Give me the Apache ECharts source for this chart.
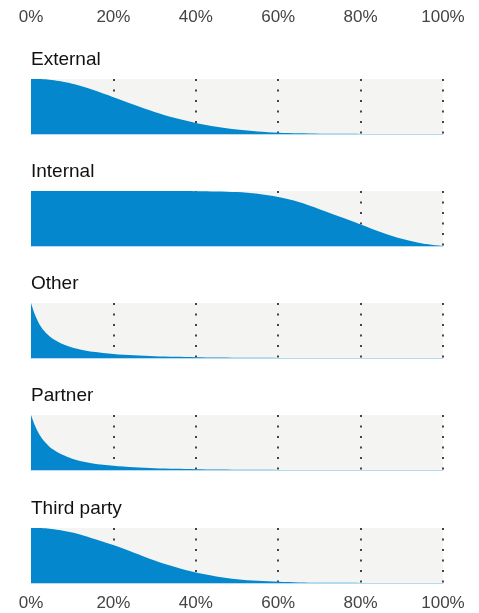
<!DOCTYPE html>
<html>
<head>
<meta charset="utf-8">
<script src="https://cdn.jsdelivr.net/npm/echarts@6/dist/echarts.min.js"></script>
<style>
  html, body { margin: 0; padding: 0; background: #fff; }
  #main { width: 479px; height: 613px; }
</style>
</head>
<body>
<div id="main"></div>
<script>
/* 五个分组的分布面积图（小多图） */

// x 位置（百分比），开头加密以画出陡降
const xPoints = [0, 1, 2, 3, 4, 5, 7.5, 10, 12.5, 15, 20, 25, 30, 35, 40, 45, 50, 55, 60, 65, 70, 75, 80, 85, 90, 95, 100];
const tickLabels = ['0%', '20%', '40%', '60%', '80%', '100%'];
const groups = ['External', 'Internal', 'Other', 'Partner', 'Third party'];

const external   = [1.0, 1.0, 0.998, 0.995, 0.99, 0.98, 0.955, 0.915, 0.865, 0.805, 0.67, 0.53, 0.4, 0.29, 0.2, 0.13, 0.08, 0.046, 0.025, 0.013, 0.006, 0.003, 0.001, 0, 0, 0, 0];
const internal   = [1.0, 1.0, 1.0, 1.0, 1.0, 1.0, 1.0, 1.0, 1.0, 1.0, 1.0, 1.0, 1.0, 0.999, 0.997, 0.993, 0.98, 0.95, 0.89, 0.8, 0.67, 0.53, 0.39, 0.25, 0.13, 0.045, 0.0];
const other      = [1.0, 0.78, 0.62, 0.51, 0.43, 0.365, 0.26, 0.19, 0.145, 0.113, 0.074, 0.05, 0.033, 0.021, 0.013, 0.008, 0.005, 0.003, 0.002, 0.001, 0.0005, 0, 0, 0, 0, 0, 0];
const partner    = [1.0, 0.8, 0.65, 0.54, 0.46, 0.39, 0.28, 0.205, 0.155, 0.12, 0.077, 0.05, 0.033, 0.021, 0.013, 0.008, 0.005, 0.003, 0.002, 0.001, 0.0005, 0, 0, 0, 0, 0, 0];
const thirdParty = [1.0, 1.0, 0.998, 0.995, 0.99, 0.98, 0.955, 0.92, 0.87, 0.81, 0.69, 0.55, 0.41, 0.29, 0.19, 0.12, 0.07, 0.04, 0.022, 0.011, 0.006, 0.003, 0.001, 0, 0, 0, 0];
const values = [external, internal, other, partner, thirdParty];

const BLUE = '#0487cc';
const panelTops = [79, 191, 303, 415, 528];
const panelH = 55;

let grid = [], xAxis = [], yAxis = [], series = [], title = [];

groups.forEach((name, i) => {
    grid.push({
        left: 31, right: 36, top: panelTops[i], height: panelH,
        show: true, backgroundColor: '#f4f4f3', borderWidth: 0
    });
    title.push({
        text: name, left: 26, top: panelTops[i] - 34,
        textStyle: { fontFamily: 'Liberation Sans', fontSize: 19, fontWeight: 'normal', color: '#111' }
    });
    xAxis.push({
        type: 'value', gridIndex: i, min: 0, max: 100, interval: 20,
        position: 'bottom',
        axisLine: { show: true, lineStyle: { color: '#b3dbf1', width: 1 } },
        axisTick: { show: false },
        axisLabel: {
            show: i === groups.length - 1, margin: 12,
            formatter: v => tickLabels[v / 20],
            fontFamily: 'Liberation Sans', fontSize: 17, color: '#444'
        },
        splitLine: {
            show: true, showMinLine: false,
            lineStyle: { color: '#444', width: 2, type: [2, 8.5] }
        }
    });
    yAxis.push({ type: 'value', gridIndex: i, min: 0, max: 1, show: false });
    series.push({
        type: 'line', xAxisIndex: i, yAxisIndex: i,
        data: xPoints.map((x, k) => [x, values[i][k]]),
        smooth: 0.3, showSymbol: false, silent: true,
        lineStyle: { width: 0 },
        areaStyle: { color: BLUE, opacity: 1 }
    });
});

// 顶部刻度标签
xAxis.push({
    type: 'value', gridIndex: 0, min: 0, max: 100, interval: 20,
    position: 'top',
    axisLine: { show: false }, axisTick: { show: false }, splitLine: { show: false },
    axisLabel: {
        margin: 53, formatter: v => tickLabels[v / 20],
        fontFamily: 'Liberation Sans', fontSize: 17, color: '#444'
    }
});

let chart = echarts.init(document.getElementById('main'), null, { renderer: 'canvas' });
chart.setOption({
    animation: false,
    title: title,
    grid: grid,
    xAxis: xAxis,
    yAxis: yAxis,
    series: series
});
</script>
</body>
</html>
